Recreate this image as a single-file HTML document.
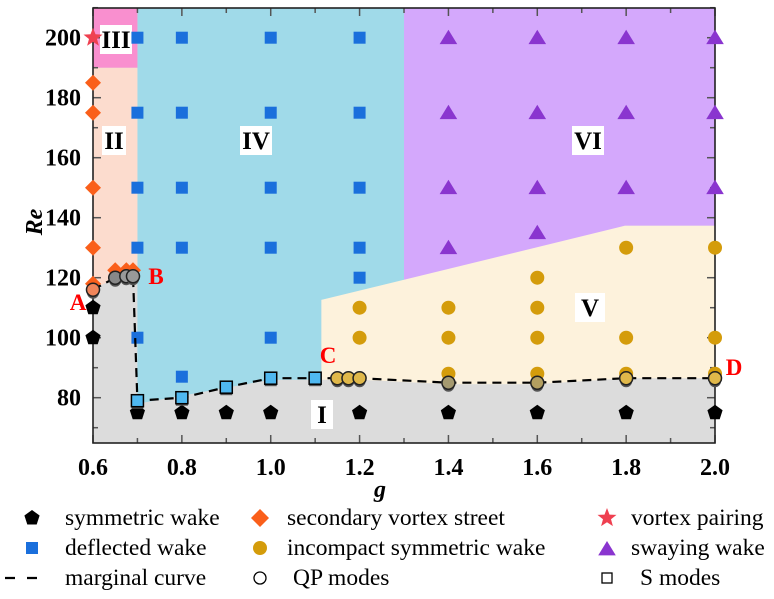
<!DOCTYPE html>
<html><head><meta charset="utf-8"><style>
html,body{margin:0;padding:0;background:#fff;}
text{font-family:"Liberation Serif","Times New Roman","DejaVu Serif",serif;}
</style></head><body>
<svg id="s" width="774" height="594" xmlns="http://www.w3.org/2000/svg"></svg>
<script>
const X=g=>93+(g-0.6)*444.3, Y=r=>37.7+(200-r)*3.0;
let o='';
const F=`style="font-family:'Liberation Serif','Times New Roman',serif"`;
const P=pts=>pts.map(p=>X(p[0]).toFixed(1)+','+Y(p[1]).toFixed(1)).join(' ');
o+=`<rect x="${X(.6)}" y="8" width="${X(2)-X(.6)}" height="435" fill="#dcdcdc"/>`;
o+=`<polygon fill="#a0dae9" points="${P([[.7,210],[1.3,210],[1.3,117],[1.114,112.6],[1.114,86],[1.0,86],[0.7,78],[0.7,120.5]])}"/>`;
o+=`<polygon fill="#d4a8fc" points="${P([[1.3,210],[2,210],[2,137.3],[1.797,137.3],[1.3,117]])}"/>`;
o+=`<polygon fill="#fdf2dc" points="${P([[1.114,112.6],[1.797,137.3],[2,137.3],[2,86.5],[1.8,86.5],[1.6,84.5],[1.4,84.5],[1.2,86],[1.114,86]])}"/>`;
o+=`<polygon fill="#fcdcce" points="${P([[.6,190],[.7,190],[.7,120.5],[.65,120],[.6,116]])}"/>`;
o+=`<rect x="${X(.6)}" y="8" width="${X(.7)-X(.6)}" height="${Y(190)-8}" fill="#f98fcf"/>`;
for(let i=0;i<=14;i++){const g=.6+i*.1,x=X(g),L=i%2?5:8;o+=`<line x1="${x}" y1="443" x2="${x}" y2="${443-L}" stroke="#555" stroke-width="1.5"/><line x1="${x}" y1="8" x2="${x}" y2="${8+L}" stroke="#555" stroke-width="1.5"/>`;}
for(let r=70;r<=210;r+=10){const y=Y(r),L=r%20?5:8;o+=`<line x1="93" y1="${y}" x2="${93+L}" y2="${y}" stroke="#555" stroke-width="1.5"/><line x1="715" y1="${y}" x2="${715-L}" y2="${y}" stroke="#555" stroke-width="1.5"/>`;}
o+=`<rect x="93" y="8" width="622" height="435" fill="none" stroke="#222" stroke-width="1.6"/>`;
for(let i=0;i<=7;i++){const g=.6+i*.2;o+=`<text ${F} x="${X(g)}" y="475" font-size="24" font-weight="bold" text-anchor="middle">${g.toFixed(1)}</text>`;}
for(let r=80;r<=200;r+=20){o+=`<text ${F} x="81" y="${Y(r)+8}" font-size="24" font-weight="bold" text-anchor="end">${r}</text>`;}
o+=`<text ${F} x="380" y="497" font-size="24" font-weight="bold" font-style="italic" text-anchor="middle">g</text>`;
o+=`<text ${F} transform="translate(42,222) rotate(-90)" font-size="24" font-weight="bold" font-style="italic" text-anchor="middle">Re</text>`;
const lab=(t,cx,cy,w)=>{o+=`<rect x="${cx-w/2}" y="${cy-14}" width="${w}" height="29" fill="#fff"/><text ${F} x="${cx}" y="${cy+9}" font-size="25" font-weight="bold" text-anchor="middle">${t}</text>`;};
lab('III',116,39,32);lab('II',114,140,24);lab('IV',256,140,32);lab('VI',588,140,32);lab('V',590,307,30);lab('I',322,414,22);
const pent=(x,y,c,s)=>{let p=[];for(let k=0;k<5;k++){const a=-Math.PI/2+k*2*Math.PI/5;p.push((x+s*Math.cos(a)).toFixed(1)+','+(y+s*Math.sin(a)).toFixed(1));}return `<polygon points="${p.join(' ')}" fill="${c}"/>`;};
const sq=(x,y,c,s)=>`<rect x="${x-s}" y="${y-s}" width="${2*s}" height="${2*s}" fill="${c}"/>`;
const dia=(x,y,c,s)=>`<polygon points="${x},${y-s} ${x+s},${y} ${x},${y+s} ${x-s},${y}" fill="${c}"/>`;
const tri=(x,y,c,s)=>`<polygon points="${x},${y-s} ${x+s*1.1},${y+s*0.8} ${x-s*1.1},${y+s*0.8}" fill="${c}"/>`;
const cir=(x,y,c,s)=>`<circle cx="${x}" cy="${y}" r="${s}" fill="${c}"/>`;
const star=(x,y,c,s)=>{let p=[];for(let k=0;k<10;k++){const a=-Math.PI/2+k*Math.PI/5,rr=k%2?s*0.42:s;p.push((x+rr*Math.cos(a)).toFixed(1)+','+(y+rr*Math.sin(a)).toFixed(1));}return `<polygon points="${p.join(' ')}" fill="${c}"/>`;};
[[.6,110],[.6,100],[.7,75],[.8,75],[.9,75],[1,75],[1.2,75],[1.4,75],[1.6,75],[1.8,75],[2,75]].forEach(p=>o+=pent(X(p[0]),Y(p[1]),'#000',8));
[[.7,200],[.8,200],[1,200],[1.2,200],[.7,175],[.8,175],[1,175],[1.2,175],[.7,150],[.8,150],[1,150],[1.2,150],[.7,130],[.8,130],[1,130],[1.2,130],[1.2,120],[.7,100],[1,100],[.8,87]].forEach(p=>o+=sq(X(p[0]),Y(p[1]),'#1a6fdc',6));
[[1.4,200],[1.6,200],[1.8,200],[2,200],[1.4,175],[1.6,175],[1.8,175],[2,175],[1.4,150],[1.6,150],[1.8,150],[2,150],[1.4,130],[1.6,135]].forEach(p=>o+=tri(X(p[0]),Y(p[1]),'#8a35cf',8));
[[1.2,110],[1.2,100],[1.4,110],[1.4,100],[1.4,88],[1.6,120],[1.6,110],[1.6,100],[1.6,88],[1.8,130],[1.8,100],[1.8,88],[2,130],[2,100],[2,88]].forEach(p=>o+=cir(X(p[0]),Y(p[1]),'#d49c0b',7));
[[.6,185],[.6,175],[.6,150],[.6,130],[.6,118],[.65,122.5],[.675,122.5],[.69,122.5]].forEach(p=>o+=dia(X(p[0]),Y(p[1]),'#fa5f1a',8));
o+=star(X(.6),Y(200),'#ef4050',10);
o+=`<polyline fill="none" stroke="#000" stroke-width="2.2" stroke-dasharray="9,6" points="${P([[.6,116],[.65,120],[.69,120.5],[.7,79],[.8,80],[.9,83.5],[1,86.5],[1.1,86.5],[1.2,86.5],[1.4,85],[1.6,85],[1.8,86.5],[2,86.5]])}"/>`;
[[.7,79],[.8,80],[.9,83.5],[1,86.5],[1.1,86.5]].forEach(p=>{const x=X(p[0]),y=Y(p[1]);o+=`<rect x="${x-6}" y="${y-2}" width="12" height="10" fill="#555"/><rect x="${x-6}" y="${y-6}" width="12" height="12" fill="#4fb8f0" stroke="#000" stroke-width="1.5"/>`;});
[[.6,116,'#f0855a'],[.65,120,'#888'],[.675,120.5,'#999'],[.69,120.5,'#999'],[1.15,86.5,'#e0b84a'],[1.175,86.5,'#e0b84a'],[1.2,86.5,'#e0b84a'],[1.4,85,'#a59a70'],[1.6,85,'#b39f60'],[1.8,86.5,'#e0b84a'],[2,86.5,'#e0b84a']].forEach(p=>{const x=X(p[0]),y=Y(p[1]);o+=`<circle cx="${x}" cy="${y+3}" r="6" fill="#555"/><circle cx="${x}" cy="${y}" r="6.5" fill="${p[2]}" stroke="#222" stroke-width="1.5"/>`;});
[['A',78,310],['B',156,284],['C',328,363],['D',734,375]].forEach(l=>o+=`<text ${F} x="${l[1]}" y="${l[2]}" font-size="23" font-weight="bold" fill="#f00" text-anchor="middle">${l[0]}</text>`);
o+=pent(32,518,'#000',8)+sq(32,548,'#1a6fdc',6)+`<line x1="5" y1="578" x2="45" y2="578" stroke="#000" stroke-width="2.2" stroke-dasharray="10,12"/>`;
o+=dia(260,518,'#fa5f1a',9)+cir(260,548,'#d49c0b',7)+`<circle cx="260" cy="578" r="6" fill="none" stroke="#000" stroke-width="1.3"/>`;
o+=star(607,518,'#ef4050',10)+tri(607,549,'#8a35cf',8)+`<rect x="602" y="573" width="10" height="10" fill="none" stroke="#000" stroke-width="1.3"/>`;
const lt=[['symmetric wake',65,518],['deflected wake',65,548],['marginal curve',65,578],['secondary vortex street',287,518],['incompact symmetric wake',287,548],['QP modes',293,578],['vortex pairing',631,518],['swaying wake',631,548],['S modes',640,578]];
lt.forEach(t=>o+=`<text ${F} x="${t[1]}" y="${t[2]+7}" font-size="23.5">${t[0]}</text>`);
document.getElementById('s').innerHTML=o;
</script>
</body></html>
